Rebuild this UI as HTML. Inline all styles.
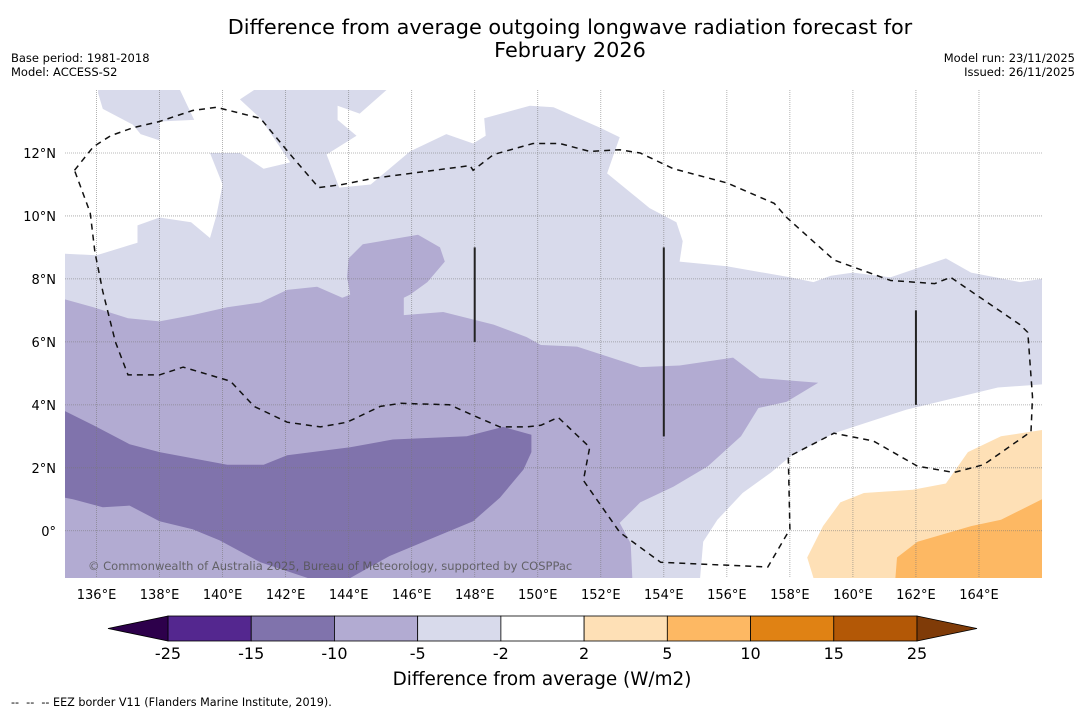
<!DOCTYPE html>
<html><head><meta charset="utf-8"><style>
body{margin:0;background:#fff;width:1085px;height:713px;overflow:hidden;font-family:"DejaVu Sans","Liberation Sans",sans-serif}
svg{position:absolute;left:0;top:0}
</style></head><body>
<svg id="chart" width="1085" height="713" xmlns="http://www.w3.org/2000/svg">
<text x="570" y="34" text-anchor="middle" font-size="20.8">Difference from average outgoing longwave radiation forecast for</text>
<text x="570" y="57" text-anchor="middle" font-size="20.8">February 2026</text>
<text x="11" y="62" font-size="11.5">Base period: 1981-2018</text>
<text x="11" y="76" font-size="11.5">Model: ACCESS-S2</text>
<text x="1075" y="62" font-size="11.5" text-anchor="end">Model run: 23/11/2025</text>
<text x="1075" y="76" font-size="11.5" text-anchor="end">Issued: 26/11/2025</text>
<g id="map"></g>
<g id="axes"></g>
<g id="cbar"></g>
<text x="542" y="685" text-anchor="middle" font-size="18.4">Difference from average (W/m2)</text>
<text x="11" y="706" font-size="11.2" xml:space="preserve">--  --  -- EEZ border V11 (Flanders Marine Institute, 2019).</text>
</svg>
<script>
const lonTicks=[136,138,140,142,144,146,148,150,152,154,156,158,160,162,164];
const latTicks=[0,2,4,6,8,10,12];
const cbarBounds=[-25,-15,-10,-5,-2,2,5,10,15,25];
const cbarColors=["#54278f","#8073ac","#b2abd2","#d8daeb","#ffffff","#fee0b6","#fdb863","#e08214","#b35806"];
const lowColor="#2d004b", highColor="#7f3b08";
const whiteA=[[135,14],[136.05,14],[136.05,13.9],[136.2,13.4],[137.15,12.9],[137.4,12.6],[138,12.4],[138,13],[139.1,13.05],[138.65,14],[141,14],[140.55,13.7],[141.2,13.1],[142.15,11.7],[141.3,11.5],[140.55,12],[139.6,12],[140,11],[139.8,10],[139.6,9.3],[139,9.8],[138,9.95],[137.3,9.7],[137.3,9.15],[136,8.75],[135,8.8]];
const whiteC=[[145.2,14],[144.35,13.25],[143.65,13.5],[143.65,13.05],[144.25,12.55],[143.3,11.95],[143.7,10.9],[144.7,11],[145.95,12.05],[147.1,12.6],[147.95,12.3],[148.35,12.55],[148.3,13.1],[149.75,13.5],[150.5,13.45],[151.98,12.8],[152.6,12.5],[152.2,11.35],[153.55,10.25],[154.4,9.8],[154.6,9.2],[154.5,8.55],[156,8.4],[158,8.05],[158.75,7.9],[159.3,8.1],[160,8.2],[161.2,8.05],[162.95,8.65],[163.75,8.2],[165.3,7.9],[166,8],[166,14]];
const whiteD=[[166,4.65],[164.6,4.55],[161.7,3.85],[159.4,3.1],[158,2.35],[157.4,1.85],[156.5,1.2],[155.7,0.35],[155.25,-0.35],[155.15,-1.5],[166,-1.5]];
const orangeLight=[[158.55,-0.85],[159.05,0.15],[159.6,0.9],[160.35,1.2],[161.9,1.3],[162.95,1.5],[163.65,2.5],[164.7,3],[166,3.2],[166,-1.5],[158.75,-1.5]];
const orangeMid=[[161.4,-0.85],[162.05,-0.35],[163.75,0.15],[164.7,0.35],[166,1],[166,-1.5],[161.35,-1.5]];
const purpleMid=[[135,7.35],[135.9,7.1],[137,6.75],[138,6.65],[139.05,6.85],[140.15,7.1],[141.2,7.25],[142.05,7.65],[143,7.75],[143.8,7.4],[144.05,7.5],[143.95,8.05],[144,8.65],[144.45,9.1],[146.2,9.4],[146.9,9],[147.05,8.55],[146.5,7.9],[145.95,7.5],[145.75,7.4],[145.75,6.85],[147,6.95],[148.6,6.55],[149.65,6.15],[150.1,5.9],[151.25,5.85],[153.25,5.2],[154.5,5.25],[156.2,5.5],[157.05,4.85],[158.9,4.7],[157.9,4.1],[157,3.9],[156.45,3],[155.4,2.05],[154.3,1.4],[153.25,0.9],[152.6,0.25],[152.95,-0.4],[153,-1.5],[135,-1.5]];
const purpleDark=[[135,3.8],[135.9,3.35],[137.05,2.75],[138,2.5],[140.15,2.1],[141.3,2.1],[142.05,2.4],[144.05,2.65],[145.4,2.9],[147.75,3],[148.9,3.3],[149.8,3.05],[149.8,2.5],[149.55,1.95],[148.8,1.05],[147.95,0.3],[146.5,-0.3],[145.3,-0.8],[144.05,-1.5],[142.7,-1.5],[141.2,-1],[139.9,-0.3],[139.05,0.05],[138,0.3],[137.05,0.8],[136.2,0.75],[135.25,1],[135,1.05]];
const eez=[[135.3,11.45],[135.9,12.2],[136.45,12.55],[137.15,12.8],[138,13],[139.05,13.35],[139.8,13.45],[141.2,13.1],[142.15,11.95],[143.05,10.9],[143.8,11],[144.8,11.2],[147.85,11.6],[147.95,11.45],[148.6,11.95],[149.85,12.3],[150.7,12.3],[151.65,12.05],[152.6,12.1],[153.25,12],[154.3,11.5],[156,11.05],[157.5,10.4],[157.9,9.95],[159.4,8.6],[161.2,7.95],[162.6,7.85],[163.1,8.05],[165.3,6.55],[165.55,6.3],[165.7,4.25],[165.65,3.15],[164.15,2.1],[163.2,1.85],[162.05,2.05],[160.65,2.85],[159.4,3.1],[157.95,2.35],[158,0.05],[157.3,-1.15],[153.9,-1],[152.6,-0.05],[151.45,1.6],[151.65,2.65],[150.65,3.6],[150.1,3.35],[149.65,3.3],[148.8,3.3],[148.1,3.6],[147.2,4],[145.65,4.05],[145,3.95],[143.95,3.45],[143.1,3.3],[142.05,3.45],[141,3.95],[140.25,4.75],[138.75,5.2],[138,4.95],[137,4.95],[136.6,6],[136.2,7.6],[135.95,8.85],[135.8,10.1],[135.3,11.45]];
const barLons=[148,154,162], barLatTop=[9,9,7], barLatBot=[6,3,4];

const LON0=135,LON1=166,LAT0=-1.5,LAT1=14,X0=65,X1=1042,Y0=90,Y1=578;
const xS=l=>X0+(l-LON0)/(LON1-LON0)*(X1-X0);
const yS=l=>Y1-(l-LAT0)/(LAT1-LAT0)*(Y1-Y0);
const NS="http://www.w3.org/2000/svg";
function mk(tag,attrs,parent){const e=document.createElementNS(NS,tag);for(const k in attrs)e.setAttribute(k,attrs[k]);parent.appendChild(e);return e;}
const map=document.getElementById('map'),axes=document.getElementById('axes'),cb=document.getElementById('cbar');
const pts=a=>a.map(p=>xS(p[0]).toFixed(1)+","+yS(p[1]).toFixed(1)).join(" ");
let bg=mk('rect',{x:X0,y:Y0,width:X1-X0,height:Y1-Y0,fill:cbarColors[3]},map);


const layers=[[whiteA,cbarColors[4],'region-white-west'],[whiteC,cbarColors[4],'region-white-north'],[whiteD,cbarColors[4],'region-white-southeast'],[orangeLight,cbarColors[5],'region-2-5'],[orangeMid,cbarColors[6],'region-5-10'],[purpleMid,cbarColors[2],'region-minus10-minus5'],[purpleDark,cbarColors[1],'region-minus15-minus10']];
layers.forEach(L=>{const p=mk('polygon',{points:pts(L[0]),fill:L[1]},map);

});
lonTicks.forEach(l=>{const g=mk('line',{x1:xS(l),x2:xS(l),y1:Y0,y2:Y1,stroke:'#777','stroke-width':0.8,'stroke-dasharray':'1,1','stroke-opacity':0.7},axes);


const t=mk('text',{x:xS(l),y:Y1+21,'text-anchor':'middle','font-size':13},axes);t.textContent=l+"°E";

});
latTicks.forEach(l=>{const g=mk('line',{x1:X0,x2:X1,y1:yS(l),y2:yS(l),stroke:'#777','stroke-width':0.8,'stroke-dasharray':'1,1','stroke-opacity':0.7},axes);


const t=mk('text',{x:X0-9,y:yS(l)+5,'text-anchor':'end','font-size':13},axes);t.textContent=l===0?"0°":l+"°N";

});
const ez=mk('polyline',{points:pts(eez),fill:'none',stroke:'#111','stroke-width':1.5,'stroke-dasharray':'6,5'},axes);


barLons.forEach((l,i)=>{const b=mk('line',{x1:xS(l),x2:xS(l),y1:yS(barLatTop[i]),y2:yS(barLatBot[i]),stroke:'#222','stroke-width':2},axes);

});
const ct=mk('text',{x:88,y:570,'font-size':11.5,fill:'#555','fill-opacity':0.85},axes);ct.textContent="© Commonwealth of Australia 2025, Bureau of Meteorology, supported by COSPPac";


const CB0=168,CB1=917,CBY=616,CBH=25,TIP=60;
const cx=i=>CB0+i*(CB1-CB0)/(cbarBounds.length-1);
cbarColors.forEach((c,i)=>{const r=mk('rect',{x:cx(i),y:CBY,width:cx(i+1)-cx(i),height:CBH,fill:c,stroke:'#000','stroke-width':0.8},cb);

});
const lt=mk('polygon',{points:`${CB0},${CBY} ${CB0-TIP},${CBY+CBH/2} ${CB0},${CBY+CBH}`,fill:lowColor,stroke:'#000','stroke-width':0.8},cb);


const rt=mk('polygon',{points:`${CB1},${CBY} ${CB1+TIP},${CBY+CBH/2} ${CB1},${CBY+CBH}`,fill:highColor,stroke:'#000','stroke-width':0.8},cb);


cbarBounds.forEach((v,i)=>{const t=mk('text',{x:cx(i),y:659,'text-anchor':'middle','font-size':16},cb);t.textContent=v;

});
</script>
</body></html>
